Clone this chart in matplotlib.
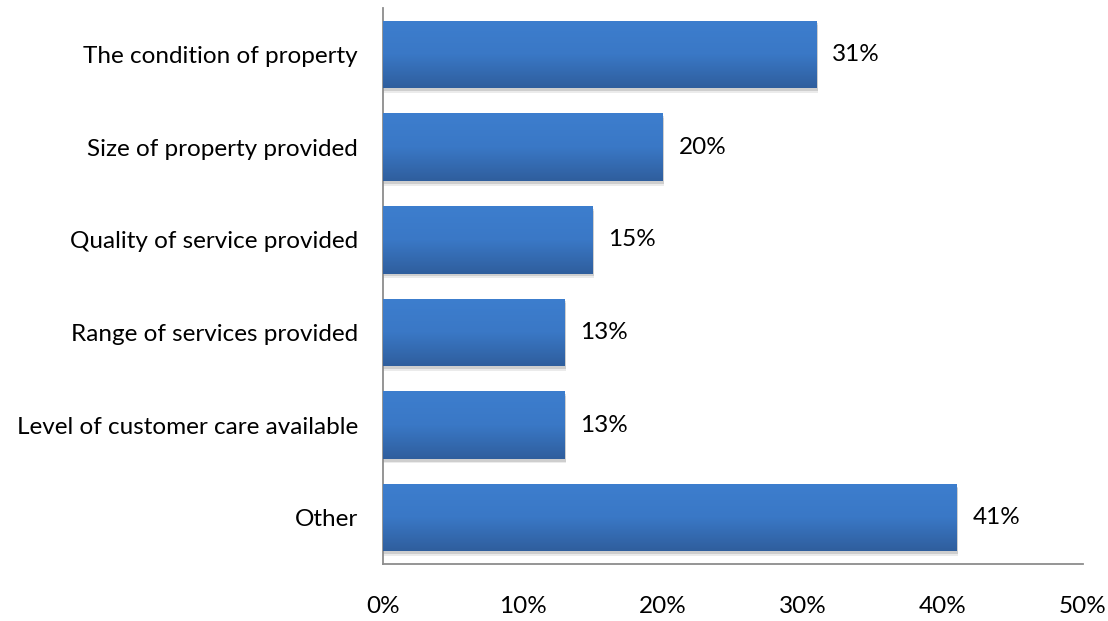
import numpy as np
import matplotlib.pyplot as plt
from matplotlib.colors import LinearSegmentedColormap

categories = ["The condition of property", "Size of property provided",
              "Quality of service provided", "Range of services provided",
              "Level of customer care available", "Other"]
values = [31, 20, 15, 13, 13, 41]
xticks = [0, 10, 20, 30, 40, 50]

plt.rcParams['font.family'] = ['Lato', 'DejaVu Sans']
FS = 17.5

fig = plt.figure(figsize=(11.08, 6.21), dpi=100)
ax = fig.add_axes([0.3457, 0.0918, 0.6317, 0.8952])

y = np.arange(len(categories))
height = 0.73

# soft drop shadow under each bar
for off, a in ((0.05, 0.08), (0.03, 0.12)):
    ax.barh(y + off, np.array(values) + 0.1, height=height, color='#000000',
            alpha=a, zorder=1, linewidth=0)
bars = ax.barh(y, values, height=height, color='none', zorder=2, linewidth=0)

# vertical gradient fill, lighter at the top
grad_cmap = LinearSegmentedColormap.from_list('bar', ['#3D7ECE', '#3A78C6', '#2F5E9D'])
grad = np.linspace(0, 1, 256).reshape(-1, 1)
for patch in bars:
    x0, y0 = patch.get_x(), patch.get_y()
    w, h = patch.get_width(), patch.get_height()
    im = ax.imshow(grad, cmap=grad_cmap, aspect='auto', origin='lower',
                   extent=(x0, x0 + w, y0, y0 + h), zorder=3)
    im.set_clip_path(patch)

for yi, v in zip(y, values):
    ax.text(v + 1.1, yi, f"{v}%", va='center', ha='left', fontsize=FS, color='#000000')

ax.set_xlim(0, 50)
ax.set_ylim(len(categories) - 0.5, -0.5)
ax.set_yticks(y)
ax.set_yticklabels(categories, fontsize=FS)
ax.set_xticks(xticks)
ax.set_xticklabels([f"{t}%" for t in xticks], fontsize=FS)
ax.tick_params(axis='y', length=0, pad=18)
ax.tick_params(axis='x', length=0, pad=23)

for side in ('top', 'right'):
    ax.spines[side].set_visible(False)
for side in ('left', 'bottom'):
    ax.spines[side].set_color('#8C8C8C')
    ax.spines[side].set_linewidth(1.3)

fig.savefig('out.png', dpi=100)
